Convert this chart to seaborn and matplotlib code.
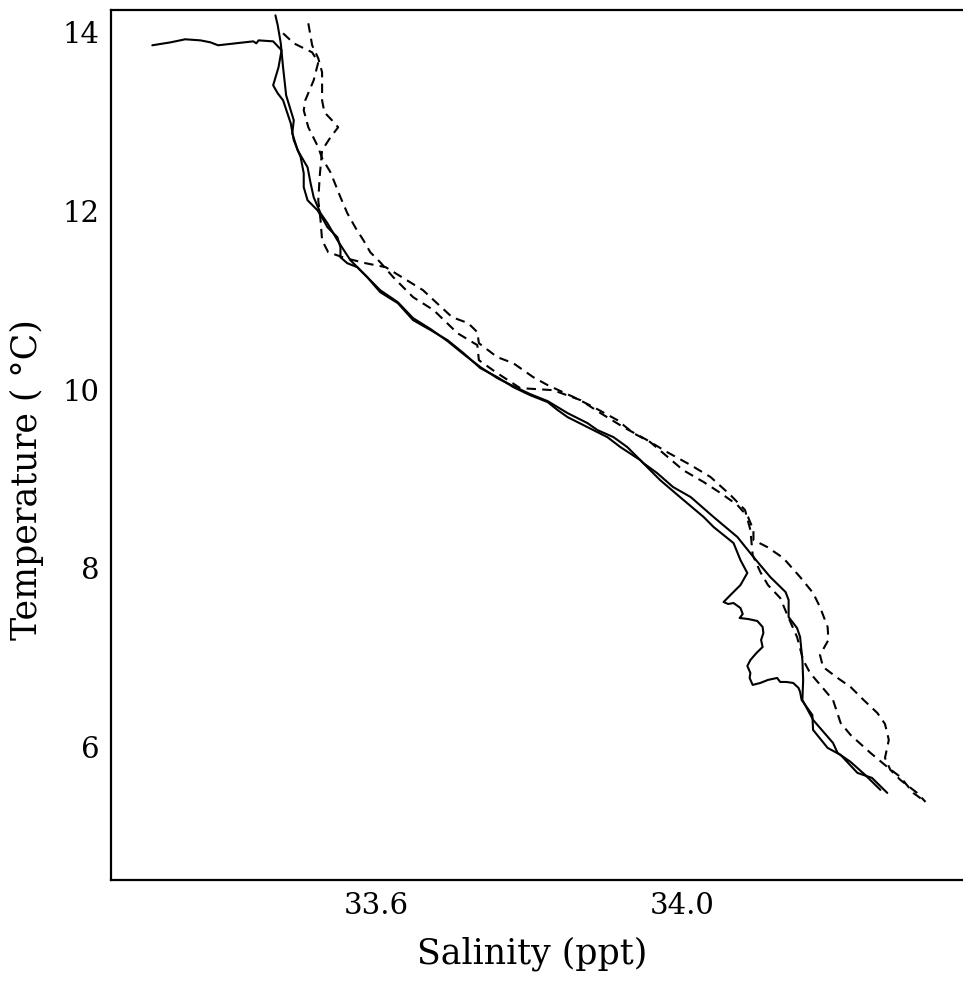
import matplotlib
matplotlib.use("Agg")
import matplotlib.pyplot as plt
import seaborn as sns
import pandas as pd

# ---- data (salinity in ppt, temperature in deg C) ----
sal_a = [33.307,33.331,33.350,33.370,33.383,33.393,33.416,33.439,33.443,33.446,
         33.465,33.476,33.472,33.465,33.471,33.478,33.488,33.492,33.501,33.505,
         33.505,33.510,33.523,33.531,33.536,33.549,33.553,33.553,33.562,33.575,
         33.588,33.605,33.628,33.648,33.671,33.693,33.714,33.736,33.758,33.779,
         33.801,33.824,33.837,33.850,33.876,33.902,33.919,33.945,33.954,33.971,
         33.997,34.028,34.041,34.067,34.076,34.085,
         34.076,34.063,34.054,34.060,34.067,34.076,34.079,34.075,34.086,34.098,
         34.105,34.106,34.103,34.105,34.097,34.089,34.085,34.089,34.088,34.092,
         34.102,34.112,34.124,34.128,34.136,34.145,34.152,34.154,34.156,
         34.170,34.171,34.190,34.207,34.229,34.248,34.268]
tmp_a = [13.855,13.888,13.922,13.910,13.888,13.855,13.877,13.899,13.877,13.910,
         13.899,13.799,13.608,13.407,13.317,13.239,12.982,12.792,12.601,12.422,
         12.266,12.120,12.008,11.896,11.818,11.706,11.594,11.482,11.415,11.371,
         11.259,11.091,10.968,10.778,10.666,10.554,10.408,10.240,10.140,10.028,
         9.938,9.860,9.771,9.692,9.580,9.468,9.357,9.211,9.133,8.987,
         8.797,8.573,8.461,8.282,8.092,7.947,
         7.812,7.701,7.622,7.600,7.611,7.555,7.488,7.443,7.432,7.410,
         7.343,7.275,7.197,7.119,7.052,6.973,6.906,6.828,6.772,6.694,
         6.716,6.750,6.772,6.727,6.727,6.716,6.660,6.615,6.526,
         6.358,6.190,5.989,5.910,5.709,5.653,5.485]

sal_c = [33.468,33.471,33.475,33.478,33.482,33.492,33.490,33.497,33.510,33.514,
         33.518,33.527,33.536,33.549,33.566,33.583,33.605,33.628,33.648,33.671,
         33.693,33.714,33.736,33.758,33.779,33.801,33.824,33.850,33.876,33.889,
         33.910,33.928,33.949,33.967,33.988,34.011,34.041,34.072,34.093,34.115,
         34.135,34.139,34.139,34.150,34.154,34.157,34.158,34.157,34.171,34.197,
         34.203,34.220,34.239,34.259]
tmp_c = [14.190,14.078,13.877,13.608,13.295,13.015,12.870,12.680,12.489,12.310,
         12.154,11.975,11.863,11.673,11.449,11.303,11.113,10.979,10.800,10.677,
         10.543,10.397,10.252,10.129,10.039,9.950,9.871,9.737,9.625,9.547,
         9.468,9.357,9.178,9.066,8.909,8.797,8.573,8.350,8.126,7.902,
         7.734,7.645,7.454,7.331,7.231,6.973,6.750,6.526,6.302,6.045,
         5.933,5.832,5.687,5.519]

sal_d1 = [33.511,33.516,33.524,33.529,33.529,33.532,33.542,33.550,33.540,33.529,
          33.526,33.524,33.527,33.529,33.537,33.560,33.586,33.612,33.644,33.661,
          33.675,33.699,33.720,33.732,33.734,33.758,33.779,33.805,33.824,33.858,
          33.884,33.915,33.936,33.958,33.975,34.001,34.028,34.050,34.072,34.086,
          34.093,34.093,34.111,34.132,34.154,34.171,34.180,34.190,34.191,34.180,
          34.184,34.203,34.220,34.237,34.255,34.265,34.270,34.265,34.272,34.285,
          34.307,34.318]
tmp_d1 = [14.101,13.855,13.709,13.552,13.239,13.105,13.015,12.937,12.825,12.680,
          12.400,12.120,11.896,11.673,11.538,11.471,11.415,11.371,11.203,11.113,
          11.001,10.811,10.744,10.643,10.520,10.364,10.296,10.140,10.050,9.916,
          9.804,9.659,9.513,9.413,9.289,9.099,8.965,8.842,8.708,8.573,
          8.428,8.316,8.238,8.115,7.902,7.723,7.566,7.343,7.197,7.029,
          6.895,6.772,6.671,6.526,6.380,6.257,6.078,5.877,5.743,5.631,
          5.485,5.384]

sal_d2 = [33.478,33.492,33.516,33.524,33.518,33.507,33.505,33.511,33.524,33.529,
          33.540,33.553,33.562,33.573,33.583,33.592,33.605,33.622,33.648,33.675,
          33.706,33.732,33.734,33.756,33.788,33.831,33.867,33.893,33.923,33.954,
          33.980,34.011,34.037,34.063,34.082,34.089,34.092,34.102,34.112,34.128,
          34.139,34.150,34.158,34.167,34.197,34.207,34.220,34.246,34.268,34.285,
          34.302,34.318]
tmp_d2 = [13.989,13.877,13.776,13.664,13.463,13.239,13.127,12.937,12.713,12.590,
          12.433,12.154,11.975,11.807,11.673,11.538,11.426,11.259,11.035,10.889,
          10.632,10.498,10.330,10.196,10.017,9.994,9.882,9.737,9.580,9.435,
          9.301,9.155,9.021,8.819,8.652,8.428,8.148,7.958,7.812,7.667,
          7.443,7.231,6.973,6.828,6.526,6.268,6.134,5.933,5.776,5.664,
          5.485,5.384]

x_ticks = [33.4, 33.6, 33.8, 34.0, 34.2]
x_tick_labels = ["", "33.6", "", "34.0", ""]
y_ticks = [6, 8, 10, 12, 14]
y_tick_labels = ["6", "8", "10", "12", "14"]

# ---- styling ----
sns.set_style("white")
plt.rcParams["font.family"] = ["DejaVu Serif"]
plt.rcParams["text.color"] = "black"
plt.rcParams["axes.labelcolor"] = "black"

W, H = 963, 981
fig = plt.figure(figsize=(W / 100, H / 100), dpi=100)
ax = fig.add_axes([111 / W, (H - 880) / H, (W - 111) / W, (880 - 10) / H])

series = [
    (sal_a, tmp_a, "-"),
    (sal_c, tmp_c, "-"),
    (sal_d1, tmp_d1, (0, (4.5, 3.0))),
    (sal_d2, tmp_d2, (0, (4.5, 3.0))),
]
for s, t, ls in series:
    df = pd.DataFrame({"sal": s, "temp": t})
    sns.lineplot(data=df, x="sal", y="temp", sort=False, estimator=None,
                 color="black", linewidth=1.5, linestyle=ls, ax=ax)

ax.set_xlim(33.253, 34.367)
ax.set_ylim(4.51, 14.25)

ax.set_xticks(x_ticks)
ax.set_xticklabels(x_tick_labels)
ax.set_yticks(y_ticks)
ax.set_yticklabels(y_tick_labels)
ax.tick_params(axis="both", direction="in", length=9, width=1.2,
               labelsize=21, color="black", labelcolor="black")
ax.tick_params(axis="x", pad=9)
ax.tick_params(axis="y", pad=8)

for side in ["left", "bottom", "top"]:
    ax.spines[side].set_visible(True)
    ax.spines[side].set_linewidth(1.6)
    ax.spines[side].set_color("black")
ax.spines["right"].set_visible(False)

ax.set_xlabel("Salinity (ppt)", fontsize=25, color="black")
ax.set_ylabel("Temperature ( \u00b0C)", fontsize=25, color="black")
axw, axh = W - 111, 880 - 10
ax.xaxis.set_label_coords((532 - 111) / axw, -(936 - 880) / axh)
ax.yaxis.set_label_coords(-(111 - 44) / axw, (880 - 480) / axh)

fig.savefig("out.png", dpi=100, facecolor="white")
